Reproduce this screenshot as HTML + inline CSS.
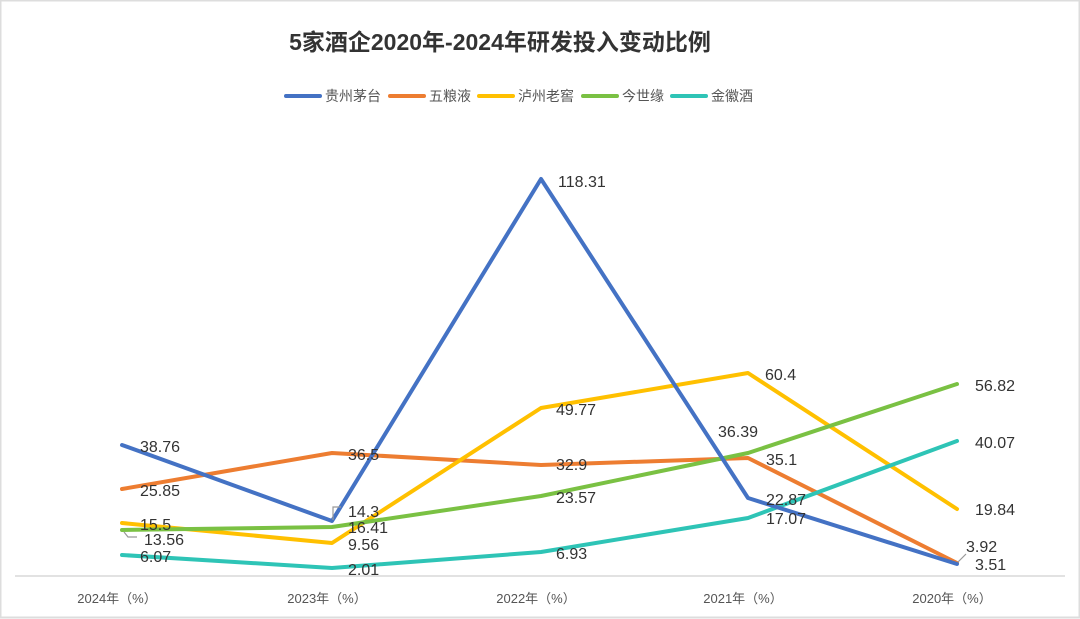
<!DOCTYPE html>
<html><head><meta charset="utf-8"><style>
body{margin:0;background:#fff;}
svg{display:block;font-family:"Liberation Sans","Noto Sans CJK SC",sans-serif;}
</style></head><body>
<svg width="1080" height="619" viewBox="0 0 1080 619">
<rect x="0" y="0" width="1080" height="619" fill="#fff"/>
<rect x="0.5" y="0.5" width="1079" height="617" fill="none" stroke="#ddd" stroke-width="2"/>
<text x="500" y="50" text-anchor="middle" font-size="23" font-weight="bold" fill="#333">5家酒企2020年-2024年研发投入变动比例</text>
<g font-size="14" fill="#555">
<line x1="286" y1="96" x2="320" y2="96" stroke="#4472C4" stroke-width="4" stroke-linecap="round"/><text x="325" y="101">贵州茅台</text>
<line x1="390" y1="96" x2="424" y2="96" stroke="#ED7D31" stroke-width="4" stroke-linecap="round"/><text x="429" y="101">五粮液</text>
<line x1="479" y1="96" x2="513" y2="96" stroke="#FFC000" stroke-width="4" stroke-linecap="round"/><text x="518" y="101">泸州老窖</text>
<line x1="583" y1="96" x2="617" y2="96" stroke="#7AC143" stroke-width="4" stroke-linecap="round"/><text x="622" y="101">今世缘</text>
<line x1="672" y1="96" x2="706" y2="96" stroke="#2EC4B6" stroke-width="4" stroke-linecap="round"/><text x="711" y="101">金徽酒</text>
</g>
<line x1="15" y1="576" x2="1065" y2="576" stroke="#d9d9d9" stroke-width="1.5"/>
<g font-size="13" fill="#555" text-anchor="middle">
<text x="117" y="603">2024年（%）</text><text x="327" y="603">2023年（%）</text><text x="536" y="603">2022年（%）</text><text x="743" y="603">2021年（%）</text><text x="952" y="603">2020年（%）</text>
</g>
<g fill="none" stroke-width="4" stroke-linejoin="round" stroke-linecap="round">
<polyline stroke="#ED7D31" points="122,489 332,453 541,465 748,458 957,563"/>
<polyline stroke="#FFC000" points="122,523 332,543 541,408 748,373 957,509"/>
<polyline stroke="#7AC143" points="122,530 332,527 541,496 748,453 957,384"/>
<polyline stroke="#2EC4B6" points="122,555 332,568 541,552 748,518 957,441"/>
<polyline stroke="#4472C4" points="122,445 332,521 541,179 748,498 957,564"/>
</g>
<g fill="none" stroke="#999" stroke-width="1.2">
<polyline points="124,532 128,537 137,537"/>
<polyline points="333,520 333,507 341,507"/>
<polyline points="958,562 966,554"/>
</g>
<g font-size="16" fill="#333">
<text x="140" y="452">38.76</text><text x="140" y="496">25.85</text><text x="140" y="530">15.5</text><text x="144" y="545">13.56</text><text x="140" y="562">6.07</text>
<text x="348" y="460">36.5</text><text x="348" y="517">14.3</text><text x="348" y="533">16.41</text><text x="348" y="550">9.56</text><text x="348" y="575">2.01</text>
<text x="558" y="187">118.31</text><text x="556" y="415">49.77</text><text x="556" y="470">32.9</text><text x="556" y="503">23.57</text><text x="556" y="559">6.93</text>
<text x="718" y="437">36.39</text><text x="765" y="380">60.4</text><text x="766" y="465">35.1</text><text x="766" y="505">22.87</text><text x="766" y="524">17.07</text>
<text x="975" y="391">56.82</text><text x="975" y="448">40.07</text><text x="975" y="515">19.84</text><text x="966" y="552">3.92</text><text x="975" y="570">3.51</text>
</g>
</svg>
</body></html>
